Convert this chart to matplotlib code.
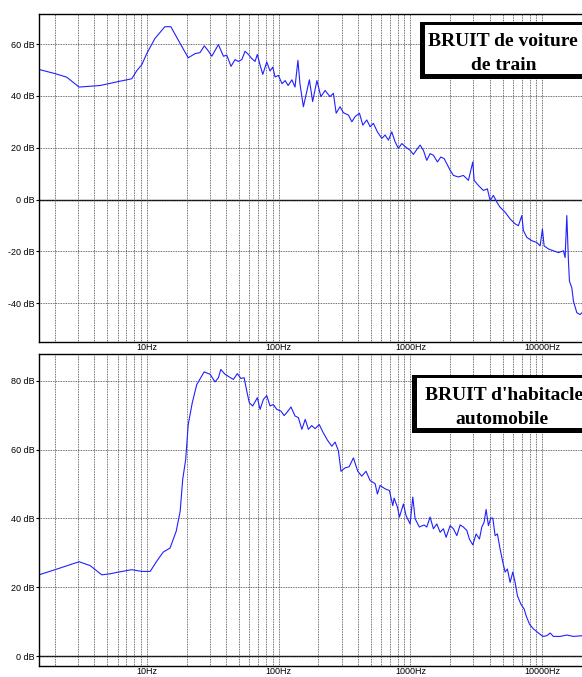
import matplotlib
matplotlib.use("Agg")
import matplotlib.pyplot as plt
from matplotlib.patches import Rectangle
from matplotlib.ticker import LogLocator, FixedLocator, FixedFormatter, NullFormatter

# ---- data (Hz, dB) ----
train_freq = [1.52, 2.04, 2.47, 3.06, 4.42, 6.05, 7.68, 8.38, 9.15, 9.98,
              11.5, 13.7, 15.2, 17.9, 20.6, 23.2, 25.3, 27.3, 29.3, 31.1,
              34.9, 38.1, 40.4, 43.5, 46.7, 49.4, 52.5, 55.6, 58.9, 62.5,
              66.2, 68.9, 72.3, 75.8, 81.2, 86.0, 90.2, 93.9, 99.5, 106,
              112, 118, 126, 133, 140, 145,
              154, 171, 181, 195, 209, 225, 245, 260, 273, 292,
              310, 338, 359, 380, 410, 435, 466, 494, 523, 561,
              606, 642, 680, 721, 764, 809, 859, 926, 993, 1052,
              1116, 1183, 1253, 1329, 1408, 1492, 1600, 1698, 1798, 1886,
              1998, 2116, 2309, 2520, 2750, 2970, 3038, 3275, 3574, 3832,
              4018, 4256, 4516, 4784, 5222, 5697, 6219, 6588, 6990, 7189,
              7627, 8324, 9085, 9624, 10018, 10320, 11130, 12140, 13250, 14460,
              14890, 15340, 15780, 16060, 16740, 17220, 18270, 19360, 20000]
train_db = [50.2, 48.5, 47.2, 43.4, 44.0, 45.5, 46.6, 49.7, 52.0, 56.3,
            62.1, 66.7, 66.7, 60.2, 54.7, 56.3, 56.7, 59.3, 57.3, 55.3,
            59.8, 55.3, 55.7, 51.4, 54.0, 53.3, 54.0, 57.2, 56.0, 54.4,
            53.3, 56.0, 51.8, 48.3, 53.1, 49.6, 51.1, 47.3, 47.9, 44.7,
            45.9, 44.0, 46.2, 43.4, 53.7, 44.7,
            35.8, 46.2, 37.8, 45.9, 39.7, 42.1, 39.7, 41.0, 33.3, 35.8,
            33.5, 32.6, 30.0, 32.0, 33.3, 28.7, 30.7, 28.1, 29.4, 26.1,
            23.6, 24.9, 22.9, 26.1, 22.3, 19.7, 21.6, 20.1, 19.0, 17.4,
            19.3, 21.0, 19.0, 15.1, 17.7, 17.1, 14.5, 16.4, 15.8, 13.8,
            11.3, 9.3, 8.7, 9.3, 7.4, 14.5, 7.4, 5.4, 3.5, 4.1,
            -0.4, 1.6, -1.0, -3.0, -4.9, -7.5, -9.4, -10.1, -6.2, -12.0,
            -14.6, -15.9, -16.6, -17.9, -11.4, -17.9, -19.1, -19.8, -20.5, -19.8,
            -22.4, -6.2, -23.7, -31.5, -34.1, -39.2, -43.7, -44.4, -43.7]

car_freq = [1.52, 2.01, 3.06, 3.71, 4.55, 5.26, 6.08, 7.68, 9.15, 10.6,
            11.9, 13.3, 15.0, 16.7, 17.9, 18.7, 19.7, 20.6, 22.1, 23.9,
            27.2, 30.2, 32.9, 34.9, 36.4, 39.2, 42.3, 45.3, 48.6, 51.6,
            54.7, 57.3, 59.9, 63.6, 68.9, 72.3, 76.6, 81.2, 86.0, 91.1,
            96.7, 104, 110, 116, 124, 133, 141, 150, 159, 168,
            178, 189, 203, 218, 234, 253, 268, 284, 297, 319,
            342, 369, 398, 427, 460, 494, 539, 561, 588, 642,
            692, 734, 751, 796, 824, 884, 926, 993, 1041, 1084,
            1168, 1268, 1329, 1408, 1492, 1583, 1677, 1777, 1863, 1998,
            2116, 2246, 2379, 2520, 2674, 2798, 2970, 3147, 3333, 3475,
            3618, 3747, 3900, 4068, 4211, 4385, 4564, 4784, 5015, 5222,
            5435, 5697, 5973, 6219, 6474, 6870, 7276, 7537, 7985, 8559,
            9342, 10090, 10820, 11460, 12140, 13650, 15340, 17220, 20000]
car_db = [23.6, 25.1, 27.4, 26.3, 23.6, 23.9, 24.4, 25.1, 24.6, 24.6,
          27.6, 30.2, 31.4, 36.3, 42.1, 51.3, 57.1, 67.3, 73.6, 78.9,
          82.6, 81.9, 79.7, 80.9, 83.3, 81.9, 81.1, 80.4, 82.1, 80.7,
          80.9, 77.0, 73.6, 72.7, 75.1, 71.7, 74.6, 75.7, 72.7, 73.1,
          71.7, 71.2, 69.9, 70.9, 72.4, 69.8, 69.3, 65.9, 68.8, 65.9,
          67.0, 66.1, 67.3, 64.9, 62.8, 61.0, 62.2, 59.6, 53.7, 54.7,
          55.0, 57.6, 53.7, 52.3, 53.7, 51.0, 50.1, 47.1, 49.6, 48.6,
          48.1, 43.7, 45.9, 43.3, 40.4, 44.2, 40.8, 38.4, 46.2, 39.9,
          37.5, 38.1, 37.5, 40.4, 37.0, 38.4, 36.0, 37.0, 34.5, 37.9,
          37.0, 35.0, 38.1, 37.5, 36.5, 34.0, 32.3, 35.5, 34.0, 37.5,
          38.9, 42.6, 37.9, 40.1, 40.1, 35.0, 35.5, 31.1, 27.3, 24.4,
          25.3, 21.4, 24.4, 21.4, 17.5, 15.1, 13.7, 11.7, 9.3, 7.9,
          6.7, 5.7, 5.9, 6.7, 5.7, 5.7, 6.1, 5.7, 5.9]

decades = [10, 100, 1000, 10000]
decade_labels = ["10Hz", "100Hz", "1000Hz", "10000Hz"]
train_yticks = [-40, -20, 0, 20, 40, 60]
car_yticks = [0, 20, 40, 60, 80]

W, H = 582, 677
LINE_COLOR = "#2020ff"
GRID_COLOR = "#404040"

plt.rcParams['font.family'] = ['Liberation Sans', 'DejaVu Sans']

fig = plt.figure(figsize=(W / 100, H / 100), dpi=100)


def axes_px(left, top, right, bottom):
    # axes rectangle given in pixels of the final picture
    return [left / W, 1 - bottom / H, (right - left) / W, (bottom - top) / H]


def setup_axes(ax, yticks, ylim):
    ax.set_xscale('log')
    ax.set_xlim(1.52, 20000)
    ax.set_ylim(*ylim)
    ax.xaxis.set_major_locator(FixedLocator(decades))
    ax.xaxis.set_major_formatter(FixedFormatter(decade_labels))
    ax.xaxis.set_minor_locator(LogLocator(base=10, subs=range(2, 10), numticks=20))
    ax.xaxis.set_minor_formatter(NullFormatter())
    ax.set_yticks(yticks)
    ax.set_yticklabels([f"{v} dB" for v in yticks])
    ax.tick_params(axis='x', which='both', length=0, labelsize=6.5, pad=1)
    ax.tick_params(axis='y', length=2, width=0.8, labelsize=6.5, pad=1)
    ax.grid(True, which='both', axis='x', color=GRID_COLOR,
            linestyle=(0, (1, 1)), linewidth=0.6)
    ax.grid(True, which='major', axis='y', color=GRID_COLOR,
            linestyle=(0, (1, 1)), linewidth=0.6)
    ax.axhline(0, color='black', linewidth=1.0, zorder=1.5)
    ax.spines['right'].set_visible(False)
    for side in ['left', 'top', 'bottom']:
        ax.spines[side].set_linewidth(1.0)
        ax.spines[side].set_color('black')


ax1 = fig.add_axes(axes_px(39, 14, 582, 342))
ax1.plot(train_freq, train_db, color=LINE_COLOR, linewidth=0.8, zorder=2)
setup_axes(ax1, train_yticks, (-55, 71.6))

ax2 = fig.add_axes(axes_px(39, 354, 582, 666))
ax2.plot(car_freq, car_db, color=LINE_COLOR, linewidth=0.8, zorder=2)
setup_axes(ax2, car_yticks, (-2.9, 87.8))


def label_box(left, top, bottom, lines, centers):
    # framed caption: black block behind a white box, thicker on left/bottom
    fig.add_artist(Rectangle((left / W, 1 - bottom / H), (W + 20 - left) / W,
                             (bottom - top) / H, transform=fig.transFigure,
                             facecolor='black', edgecolor='none', zorder=5))
    fig.add_artist(Rectangle(((left + 5) / W, 1 - (bottom - 5) / H),
                             (W + 20 - left) / W, (bottom - top - 8) / H,
                             transform=fig.transFigure, facecolor='white',
                             edgecolor='none', zorder=6))
    for txt, (cx, cy) in zip(lines, centers):
        fig.text(cx / W, 1 - cy / H, txt, ha='center', va='center',
                 fontsize=14, fontweight='bold', family='Liberation Serif',
                 zorder=7)


label_box(420, 22, 79, ["BRUIT de voiture", "de train"], [(503, 41), (504, 66)])
label_box(412, 375, 433, ["BRUIT d'habitacle", "automobile"], [(504, 396), (502, 420)])

fig.savefig("out.png", dpi=100)
plt.close(fig)
